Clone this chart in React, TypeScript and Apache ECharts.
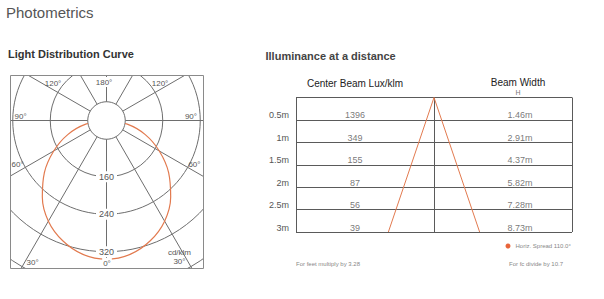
import React, { useEffect, useRef } from 'react';
import * as echarts from 'echarts';

// ---- Light distribution curve (cd/klm) ----
const gammaAngles = [0, 10, 20, 30, 40, 50, 60, 70, 80, 90];
const intensityCdKlm = [336, 330, 313, 288, 253, 213, 170, 128, 85, 40];
const radiusTickLabels = [160, 240, 320];

// ---- Illuminance table ----
const distancesM = [0.5, 1, 1.5, 2, 2.5, 3];
const centerBeamLux = [1396, 349, 155, 87, 56, 39];
const beamWidthM = [1.46, 2.91, 4.37, 5.82, 7.28, 8.73];
const spreadLabel = 'Horiz. Spread 110.0°';

const FONT = '"Liberation Sans", Arial, Helvetica, sans-serif';
const ORANGE = '#e27a4f';
const POLAR_LINE = '#6e6e6e';
const TABLE_LINE = '#5a5a5a';

function buildOption() {
  // closed curve: right side (360 - g) from 90 down to 0, then left side 0..90
  const curve: number[][] = [];
  for (let i = gammaAngles.length - 1; i >= 1; i--) {
    curve.push([intensityCdKlm[i], 360 - gammaAngles[i]]);
  }
  for (let i = 0; i < gammaAngles.length; i++) {
    curve.push([intensityCdKlm[i], gammaAngles[i]]);
  }

  const halfLast = beamWidthM[beamWidthM.length - 1] / 2;
  const lastD = distancesM[distancesM.length - 1];
  const cone = [
    [-halfLast, lastD],
    [0, 0],
    [halfLast, lastD],
  ];

  const luxX = -7.56;
  const widthX = 8.23;

  const txt = (
    text: string,
    x: number,
    y: number,
    size: number,
    fill: string,
    align: string = 'left',
    extra: any = {}
  ) => ({
    type: 'text',
    x,
    y,
    z: 100,
    silent: true,
    style: {
      text,
      fill,
      fontSize: size,
      fontFamily: FONT,
      align,
      verticalAlign: 'middle',
      ...extra,
    },
  });

  const cover = (x: number, y: number, w: number, h: number) => ({
    type: 'rect',
    z: 50,
    silent: true,
    shape: { x, y, width: w, height: h },
    style: { fill: '#fff' },
  });

  const bg = { backgroundColor: '#fff', padding: [1, 1] };

  return {
    animation: false,
    textStyle: { fontFamily: FONT },
    legend: {
      data: [spreadLabel],
      left: 505.5,
      top: 243,
      padding: 0,
      itemWidth: 5,
      itemHeight: 5,
      icon: 'circle',
      textStyle: { fontSize: 6, color: '#888', fontFamily: FONT },
      selectedMode: false,
    },
    polar: { center: [106.5, 120.5], radius: [18.75, 187.5] },
    angleAxis: {
      type: 'value',
      min: 0,
      max: 360,
      interval: 30,
      startAngle: 270,
      clockwise: true,
      axisLine: { show: false },
      axisTick: { show: false },
      axisLabel: { show: false },
      splitLine: { show: true, lineStyle: { color: POLAR_LINE, width: 1 } },
      z: 0,
    },
    radiusAxis: {
      type: 'value',
      min: 80,
      max: 440,
      interval: 80,
      axisLine: { show: false },
      axisTick: { show: false },
      axisLabel: {
        margin: 0,
        align: 'center',
        verticalAlign: 'middle',
        formatter: (v: number) => (radiusTickLabels.includes(v) ? `{b|${v}}` : ''),
        rich: {
          b: {
            backgroundColor: '#fff',
            padding: [1, 3],
            fontSize: 9,
            color: '#555',
            fontFamily: FONT,
          },
        },
      },
      splitLine: { show: true, lineStyle: { color: POLAR_LINE, width: 1 } },
      z: 5,
    },
    grid: {
      left: 296,
      top: 97.5,
      width: 276,
      height: 134.5,
      containLabel: false,
      outerBoundsMode: 'none',
    },
    xAxis: {
      type: 'value',
      min: -13.2,
      max: 13.2,
      interval: 13.2,
      axisLine: { show: false },
      axisTick: { show: false },
      axisLabel: { show: false },
      splitLine: { show: true, lineStyle: { color: TABLE_LINE, width: 1 } },
      z: 100,
    },
    yAxis: {
      type: 'value',
      inverse: true,
      min: 0,
      max: 3,
      interval: 0.5,
      axisLine: { show: false },
      axisTick: { show: false },
      axisLabel: {
        formatter: (v: number) => (v === 0 ? '' : `${v}m`),
        fontSize: 9,
        color: '#555',
        margin: 7,
        verticalAlign: 'bottom',
        fontFamily: FONT,
      },
      splitLine: { show: true, lineStyle: { color: TABLE_LINE, width: 1 } },
      z: 100,
    },
    series: [
      {
        name: 'Light distribution',
        type: 'line',
        coordinateSystem: 'polar',
        data: curve,
        smooth: 0.4,
        showSymbol: false,
        clip: false,
        silent: true,
        lineStyle: { color: ORANGE, width: 1.2 },
        itemStyle: { color: ORANGE },
        z: 10,
      },
      {
        name: spreadLabel,
        type: 'line',
        xAxisIndex: 0,
        yAxisIndex: 0,
        data: cone,
        showSymbol: false,
        silent: true,
        lineStyle: { color: ORANGE, width: 1 },
        itemStyle: { color: '#e8643a' },
        z: 110,
      },
      {
        name: 'Center Beam',
        type: 'scatter',
        xAxisIndex: 0,
        yAxisIndex: 0,
        symbolSize: 0,
        silent: true,
        data: distancesM.map((d, i) => [luxX, d, centerBeamLux[i]]),
        label: {
          show: true,
          position: 'top',
          distance: 0,
          fontSize: 9,
          color: '#555',
          fontFamily: FONT,
          formatter: (p: any) => String(centerBeamLux[p.dataIndex]),
        },
        z: 110,
      },
      {
        name: 'Beam Width',
        type: 'scatter',
        xAxisIndex: 0,
        yAxisIndex: 0,
        symbolSize: 0,
        silent: true,
        data: distancesM.map((d) => [widthX, d]),
        label: {
          show: true,
          position: 'top',
          distance: 0,
          fontSize: 9,
          color: '#555',
          fontFamily: FONT,
          formatter: (p: any) => `${beamWidthM[p.dataIndex].toFixed(2)}m`,
        },
        z: 110,
      },
    ],
    graphic: {
      elements: [
        cover(0, 0, 296, 75),
        cover(0, 0, 10, 299),
        cover(204, 0, 92, 299),
        cover(0, 269, 296, 30),
        {
          type: 'rect',
          z: 60,
          silent: true,
          shape: { x: 10.5, y: 75.5, width: 193, height: 193 },
          style: { fill: 'none', stroke: '#8a8a8a', lineWidth: 1 },
        },
        txt('Photometrics', 6, 12, 15, '#555'),
        txt('Light Distribution Curve', 8, 53.5, 11, '#333', 'left', { fontWeight: 'bold' }),
        txt('Illuminance at a distance', 265.5, 55.5, 11, '#444', 'left', { fontWeight: 'bold' }),
        txt('Center Beam Lux/klm', 355, 83, 10, '#222', 'center'),
        txt('Beam Width', 518, 82, 10, '#222', 'center'),
        txt('H', 518, 92, 7, '#777', 'center'),
        txt('For feet multiply by 3.28', 296, 264, 6, '#888'),
        txt('For fc divide by 10.7', 509, 264, 6, '#888'),
        // angle labels
        txt('180°', 104, 82, 8, '#555', 'center', bg),
        txt('120°', 53, 83, 8, '#555', 'center'),
        txt('120°', 160, 83, 8, '#555', 'center'),
        txt('90°', 14.5, 116.5, 8, '#555', 'left'),
        txt('90°', 197, 116.5, 8, '#555', 'right'),
        txt('60°', 11.5, 164, 8, '#555', 'left'),
        txt('60°', 200.5, 164, 8, '#555', 'right'),
        txt('30°', 26.5, 262, 8, '#555', 'left'),
        txt('30°', 185.5, 261, 8, '#555', 'right'),
        txt('cd/klm', 191, 252, 8, '#555', 'right'),
        txt('0°', 107, 263, 8, '#555', 'center', bg),
      ],
    },
  };
}

export default function App() {
  const ref = useRef<HTMLDivElement>(null);
  useEffect(() => {
    if (!ref.current) return;
    const chart = echarts.init(ref.current, undefined, { renderer: 'svg' });
    chart.setOption(buildOption() as any);
    return () => {
      chart.dispose();
    };
  }, []);
  return (
    <div
      ref={ref}
      style={{ position: 'fixed', left: 0, top: 0, width: 604, height: 299, background: '#fff' }}
    />
  );
}
